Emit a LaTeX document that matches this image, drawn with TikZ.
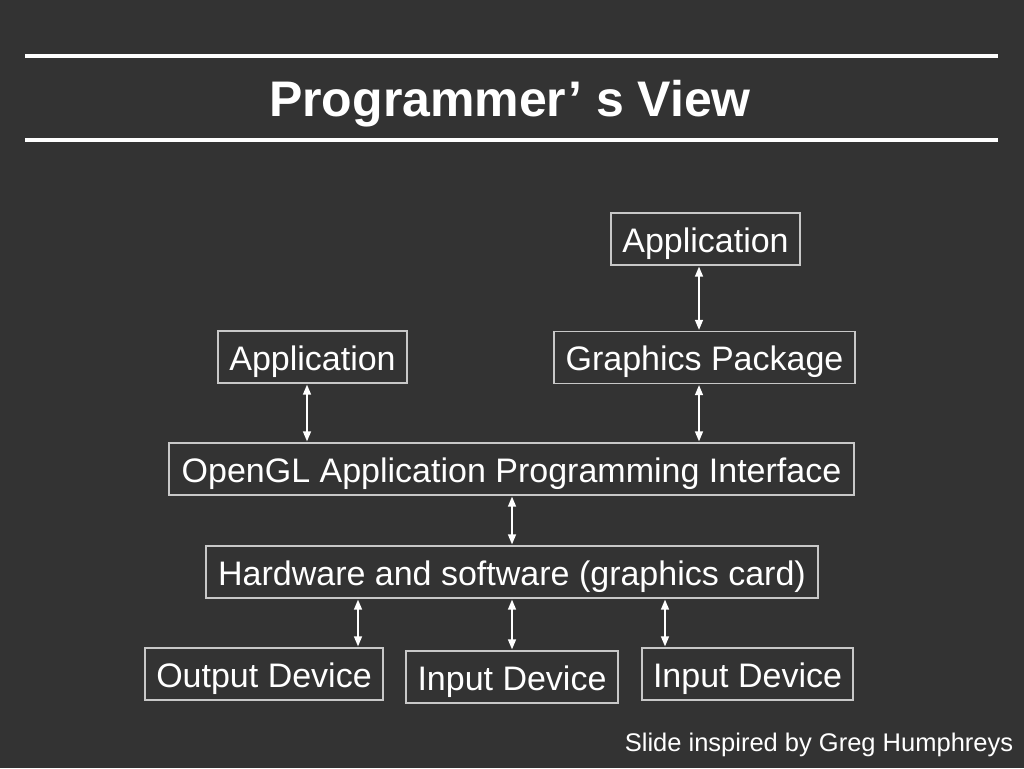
\documentclass[tikz,border=0pt]{standalone}
\usepackage{fontspec}
\setmainfont{Liberation Sans}
\usetikzlibrary{arrows.meta,calc}
\definecolor{bg}{HTML}{333333}
\definecolor{boxgray}{HTML}{C8C8C8}
\tikzset{
  box/.style={draw=boxgray, line width=1.3pt, text=white, inner sep=0pt,
    minimum height=52pt, text height=26pt, text depth=0pt, font=\fontsize{34}{40}\selectfont},
  link/.style={white, line width=1.4pt, {Triangle[width=8pt,length=10pt]}-{Triangle[width=8pt,length=10pt]}, shorten <=1pt, shorten >=1pt},
  rule/.style={white, line width=4pt}
}
\begin{document}
\begin{tikzpicture}[x=1pt,y=-1pt]
\fill[bg] (0,0) rectangle (1024,768);
\useasboundingbox (0,0) rectangle (1024,768);
% title
\draw[rule] (25,56) -- (998,56);
\draw[rule] (25,140) -- (998,140);
\node[text=white, font=\bfseries\fontsize{50}{56}\selectfont] (title) at (510,104) {Programmer’ s View};
% boxes
\node[box, minimum width=189pt] (app2) at (705.5,239) {Application};
\node[box, minimum width=189pt] (app1) at (312.5,357) {Application};
\node[box, minimum width=301pt] (gp) at (704.5,357.5) {Graphics Package};
\node[box, minimum width=685pt] (api) at (511.5,469) {OpenGL Application Programming Interface};
\node[box, minimum width=612pt] (hw) at (512,572) {Hardware and software (graphics card)};
\node[box, minimum width=238pt] (out) at (264,674) {Output Device};
\node[box, minimum width=212pt] (in1) at (512,677) {Input Device};
\node[box, minimum width=211pt] (in2) at (747.5,674) {Input Device};
% connectors
\draw[link] ([xshift=-6.5pt]app2.south) -- ([xshift=-5.5pt]gp.north);
\draw[link] ([xshift=-5.5pt]app1.south) -- ([xshift=-204.5pt]api.north);
\draw[link] ([xshift=-5.5pt]gp.south) -- ([xshift=187.5pt]api.north);
\draw[link] ([xshift=0.5pt]api.south) -- (hw.north);
\draw[link] ([xshift=-154pt]hw.south) -- ([xshift=94pt]out.north);
\draw[link] (hw.south) -- (in1.north);
\draw[link] ([xshift=153pt]hw.south) -- ([xshift=-82.5pt]in2.north);
% footer
\node[text=white, font=\fontsize{25.5}{30}\selectfont] (credit) at (819,745) {Slide inspired by Greg Humphreys};
\end{tikzpicture}
\end{document}
